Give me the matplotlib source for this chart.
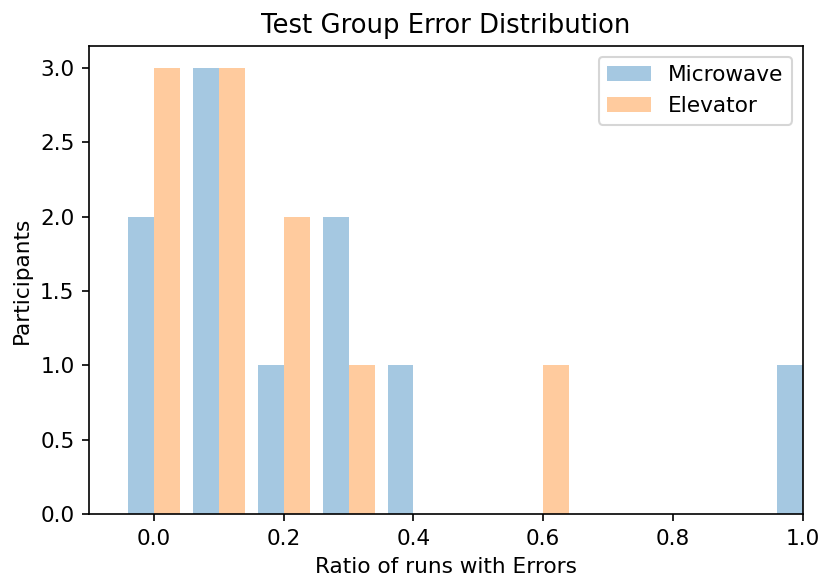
import numpy as np
import matplotlib.pyplot as plt

# bin centres of the error-ratio histogram (bin width 0.1)
bin_centres = [0.0, 0.1, 0.2, 0.3, 0.4, 0.5, 0.6, 0.7, 0.8, 0.9, 1.0]
microwave_counts = [2, 3, 1, 2, 1, 0, 0, 0, 0, 0, 1]
elevator_counts = [3, 3, 2, 1, 0, 0, 1, 0, 0, 0, 0]

bin_width = 0.1
bar_w = bin_width * 0.8 / 2

centres = np.array(bin_centres)

plt.rcParams["font.size"] = 10.4

fig, ax = plt.subplots(figsize=(5.5, 3.86), dpi=150)
fig.subplots_adjust(left=0.108, right=0.973, top=0.921, bottom=0.112)

ax.bar(centres - bar_w / 2, microwave_counts, width=bar_w,
       color="tab:blue", alpha=0.4, label="Microwave")
ax.bar(centres + bar_w / 2, elevator_counts, width=bar_w,
       color="tab:orange", alpha=0.4, label="Elevator")

ax.set_xlim(-0.1, 1.0)
ax.set_ylim(0, 3.15)
ax.set_yticks(np.arange(0, 3.01, 0.5))
ax.set_xlabel("Ratio of runs with Errors")
ax.set_ylabel("Participants")
ax.set_title("Test Group Error Distribution", fontsize=12.4)
ax.legend(loc="upper right")

fig.savefig("out.png")
